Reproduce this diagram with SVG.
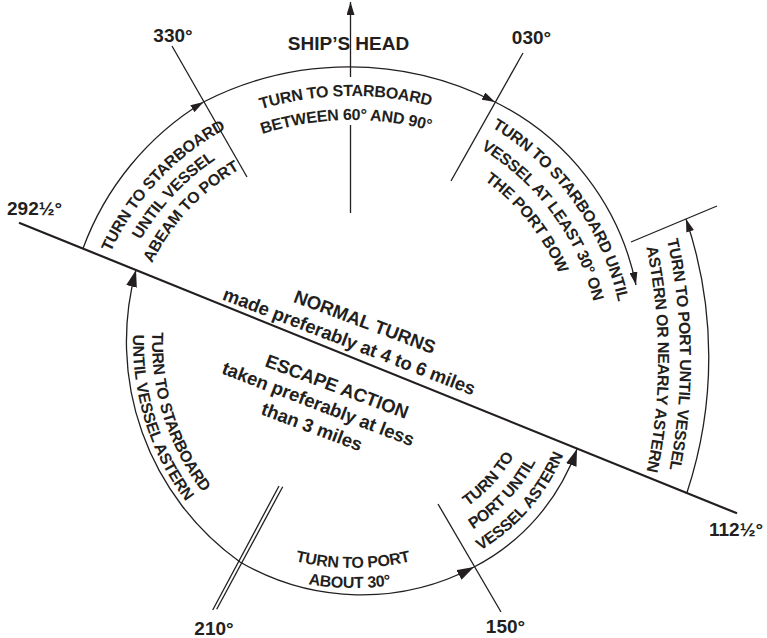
<svg xmlns="http://www.w3.org/2000/svg" width="767" height="638" viewBox="0 0 767 638">
<style>
.ln{fill:none;stroke:#231f20;stroke-width:1.3}
.dg{fill:none;stroke:#231f20;stroke-width:2.2}
.t{font-family:"Liberation Sans",Arial,Helvetica,sans-serif;font-weight:bold;fill:#231f20}
.lab{font-size:19px}
.arc{font-size:16px;letter-spacing:-0.3px}
.ctr{font-size:18.6px;letter-spacing:-0.1px}
</style>
<defs>
<marker id="as" markerUnits="userSpaceOnUse" markerWidth="13" markerHeight="8" refX="13" refY="4" orient="auto" viewBox="0 0 13 8"><path d="M0,0L13,4L0,8z" fill="#231f20"/></marker>
<marker id="al" markerUnits="userSpaceOnUse" markerWidth="17" markerHeight="11" refX="17" refY="5.5" orient="auto" viewBox="0 0 17 11"><path d="M0,0L17,5.5L0,11z" fill="#231f20"/></marker>
<path id="tA1" d="M226.9,121.6 A318,318 0 0 1 465.1,116.8"/>
<path id="tA2" d="M236.3,143.7 A294,294 0 0 1 456.5,139.2"/>
<path id="tB1" d="M100.0,280.1 A265,265 0 0 1 252.7,116.3"/>
<path id="tB2" d="M119.9,286.6 A244,244 0 0 1 260.6,135.8"/>
<path id="tB3" d="M139.9,293.1 A223,223 0 0 1 268.5,155.2"/>
<path id="tC1" d="M471.7,116.6 A273,273 0 0 1 622.3,324.0"/>
<path id="tC2" d="M459.2,137.3 A249,249 0 0 1 598.3,325.2"/>
<path id="tC3" d="M441.7,155.7 A225,225 0 0 1 573.2,321.0"/>
<path id="tD1" d="M659.2,207.9 A567,567 0 0 1 662.1,501.4"/>
<path id="tD2" d="M639.2,218.0 A545,545 0 0 1 639.7,500.1"/>
<path id="tE1" d="M437.5,523.0 A158,158 0 0 0 527.7,424.5"/>
<path id="tE2" d="M444.4,543.9 A180,180 0 0 0 548.2,432.6"/>
<path id="tE3" d="M459.2,561.5 A202,202 0 0 0 571.2,432.7"/>
<path id="tF1" d="M246.5,544.4 A252,252 0 0 0 459.5,544.4"/>
<path id="tF2" d="M234.9,561.0 A272,272 0 0 0 464.8,564.0"/>
<path id="tG1" d="M155.4,302.6 A245,245 0 0 0 222.2,514.7"/>
<path id="tG2" d="M136.6,299.4 A264,264 0 0 0 208.7,528.0"/>
</defs>
<rect width="767" height="638" fill="#fff"/>

<g id="connectors">
  <line class="dg" x1="19" y1="222.7" x2="737" y2="513.3"/>
  <line class="ln" x1="350.5" y1="213" x2="350.5" y2="125"/>
  <line class="ln" x1="350.5" y1="77" x2="350.5" y2="2" marker-end="url(#as)"/>
  <line class="ln" x1="172" y1="46" x2="247" y2="177"/>
  <line class="ln" x1="523" y1="53" x2="451" y2="181"/>
  <line class="ln" x1="631" y1="242" x2="717" y2="206"/>
  <line class="ln" x1="438" y1="504" x2="501" y2="612"/>
  <line class="ln" x1="279" y1="486" x2="212.7" y2="610"/>
  <line class="ln" x1="282.7" y1="486.7" x2="216.7" y2="609.3"/>
  <path class="ln" d="M83,248.5 A287,287 0 0 1 203.5,102" marker-end="url(#as)"/>
  <path class="ln" d="M203.5,102 A320,320 0 0 1 495,102" marker-end="url(#as)"/>
  <path class="ln" d="M495,102 A262,262 0 0 1 636,285" marker-end="url(#as)"/>
  <path class="ln" d="M687,492.5 A431,431 0 0 0 686,219" marker-end="url(#as)"/>
  <path class="ln" d="M240,562 A271,271 0 0 1 136,270" marker-end="url(#al)"/>
  <path class="ln" d="M240,562 A241,241 0 0 0 474,567" marker-end="url(#al)"/>
  <path class="ln" d="M474,567 A213,213 0 0 0 577,449" marker-end="url(#al)"/>
</g>

<g id="bearing-labels" class="t lab">
  <text x="173" y="42" text-anchor="middle">330°</text>
  <text x="348.5" y="50" text-anchor="middle">SHIP’S HEAD</text>
  <text x="531.5" y="44" text-anchor="middle">030°</text>
  <text x="7" y="215">292½°</text>
  <text x="709" y="536">112½°</text>
  <text x="214" y="635" text-anchor="middle">210°</text>
  <text x="505.5" y="633" text-anchor="middle">150°</text>
</g>

<g id="sector-top" class="t arc">
  <text><textPath href="#tA1" startOffset="50%" text-anchor="middle">TURN TO STARBOARD</textPath></text>
  <text><textPath href="#tA2" startOffset="50%" text-anchor="middle">BETWEEN 60° AND 90°</textPath></text>
</g>
<g id="sector-upper-left" class="t arc">
  <text><textPath href="#tB1" startOffset="50%" text-anchor="middle">TURN TO STARBOARD</textPath></text>
  <text><textPath href="#tB2" startOffset="50%" text-anchor="middle">UNTIL VESSEL</textPath></text>
  <text><textPath href="#tB3" startOffset="50%" text-anchor="middle">ABEAM TO PORT</textPath></text>
</g>
<g id="sector-upper-right" class="t arc">
  <text><textPath href="#tC1" startOffset="50%" text-anchor="middle">TURN TO STARBOARD UNTIL</textPath></text>
  <text><textPath href="#tC2" startOffset="50%" text-anchor="middle">VESSEL AT LEAST 30° ON</textPath></text>
  <text><textPath href="#tC3" startOffset="50%" text-anchor="middle">THE PORT BOW</textPath></text>
</g>
<g id="sector-right" class="t arc">
  <text><textPath href="#tD1" startOffset="50%" text-anchor="middle">TURN TO PORT UNTIL VESSEL</textPath></text>
  <text><textPath href="#tD2" startOffset="50%" text-anchor="middle">ASTERN OR NEARLY ASTERN</textPath></text>
</g>
<g id="sector-lower-right" class="t arc">
  <text><textPath href="#tE1" startOffset="50%" text-anchor="middle">TURN TO</textPath></text>
  <text><textPath href="#tE2" startOffset="50%" text-anchor="middle">PORT UNTIL</textPath></text>
  <text><textPath href="#tE3" startOffset="50%" text-anchor="middle">VESSEL ASTERN</textPath></text>
</g>
<g id="sector-bottom" class="t arc">
  <text><textPath href="#tF1" startOffset="50%" text-anchor="middle">TURN TO PORT</textPath></text>
  <text><textPath href="#tF2" startOffset="50%" text-anchor="middle">ABOUT 30°</textPath></text>
</g>
<g id="sector-lower-left" class="t arc">
  <text><textPath href="#tG1" startOffset="50%" text-anchor="middle">TURN TO STARBOARD</textPath></text>
  <text><textPath href="#tG2" startOffset="50%" text-anchor="middle">UNTIL VESSEL ASTERN</textPath></text>
</g>

<g id="normal-turns" class="t ctr" text-anchor="middle">
  <text transform="translate(362.5,327.8) rotate(20.5)">NORMAL TURNS</text>
  <text transform="translate(347,347.3) rotate(21)">made preferably at 4 to 6 miles</text>
</g>
<g id="escape-action" class="t ctr" text-anchor="middle">
  <text transform="translate(334.7,392.5) rotate(20.5)">ESCAPE ACTION</text>
  <text transform="translate(316,409.8) rotate(21)">taken preferably at less</text>
  <text transform="translate(309.7,432.7) rotate(20.5)">than 3 miles</text>
</g>
</svg>
